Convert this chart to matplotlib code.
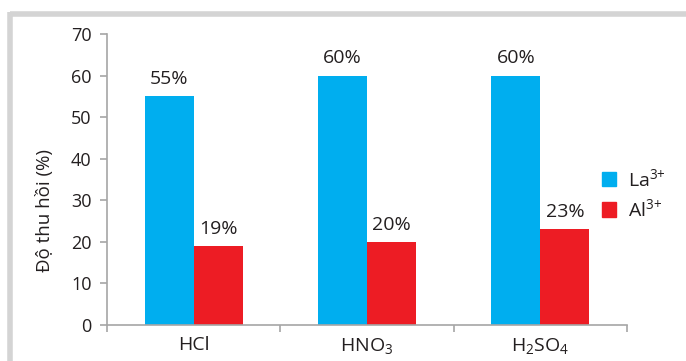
import matplotlib
matplotlib.use("Agg")
import matplotlib.pyplot as plt
from matplotlib.lines import Line2D
from matplotlib.patches import Patch
import numpy as np

categories = ["HCl", "HNO$_3$", "H$_2$SO$_4$"]
la_values = [55, 60, 60]
al_values = [19, 20, 23]
series_names = ["La$^{3{+}}$", "Al$^{3{+}}$"]
y_ticks = [0, 10, 20, 30, 40, 50, 60, 70]

BLUE = "#00AEEF"
RED = "#ED1C24"
AXIS_GRAY = "#a6a6a6"
TEXT = "#231f20"

plt.rcParams["font.family"] = ["Open Sans", "DejaVu Sans"]
plt.rcParams["mathtext.fontset"] = "custom"
plt.rcParams["mathtext.rm"] = "Open Sans"
plt.rcParams["mathtext.it"] = "Open Sans"
plt.rcParams["mathtext.bf"] = "Open Sans"

W, H = 686, 361
fig = plt.figure(figsize=(W / 100, H / 100), dpi=100)
ax = fig.add_axes([107 / W, 1 - 325 / H, (627 - 107) / W, (325 - 34) / H])

# light gray frame around the panel
frame_kw = dict(color="#d4d4d4", linewidth=4, solid_capstyle="butt")
fig.add_artist(Line2D([10 / W, 1.0], [1 - 14 / H, 1 - 14 / H], transform=fig.transFigure, **frame_kw))
fig.add_artist(Line2D([10 / W, 10 / W], [0, 1 - 12 / H], transform=fig.transFigure, **frame_kw))

x = np.arange(len(categories)) + 0.5
bw = 0.283
b1 = ax.bar(x - bw / 2, la_values, width=bw, color=BLUE, label=series_names[0])
b2 = ax.bar(x + bw / 2, al_values, width=bw, color=RED, label=series_names[1])

for bars, vals in ((b1, la_values), (b2, al_values)):
    for rect, v in zip(bars, vals):
        ax.annotate(f"{v}%", (rect.get_x() + rect.get_width() / 2, v),
                    xytext=(0, 6), textcoords="offset points",
                    ha="center", va="bottom", fontsize=14, color=TEXT)

ax.set_xlim(0, len(categories))
ax.set_ylim(0, 70)
ax.set_yticks(y_ticks)
ax.set_xticks(np.arange(len(categories) + 1))
ax.set_xticklabels([])
ax.set_xticks(x, minor=True)
ax.set_xticklabels(categories, minor=True)
ax.tick_params(axis="x", which="major", length=5, color=AXIS_GRAY, width=1.2)
ax.tick_params(axis="x", which="minor", length=0, pad=8, labelsize=14, labelcolor=TEXT)
ax.tick_params(axis="y", length=5, color=AXIS_GRAY, width=1.2, labelsize=13,
               labelcolor=TEXT, pad=6)

for side in ("top", "right"):
    ax.spines[side].set_visible(False)
for side in ("left", "bottom"):
    ax.spines[side].set_color(AXIS_GRAY)
    ax.spines[side].set_linewidth(1.2)

ax.set_ylabel("Độ thu hồi (%)", fontsize=13.5, color=TEXT)
ax.yaxis.set_label_coords((54 - 107) / 520, (325 - 210) / 291)

handles = [Patch(color=BLUE), Patch(color=RED)]
fig.legend(handles, series_names, loc="center left",
           bbox_to_anchor=(584 / W, 1 - 194 / H), frameon=False,
           fontsize=14, handlelength=0.75, handleheight=0.75,
           handletextpad=0.6, labelspacing=0.45, labelcolor=TEXT)

fig.savefig("out.png", dpi=100)
